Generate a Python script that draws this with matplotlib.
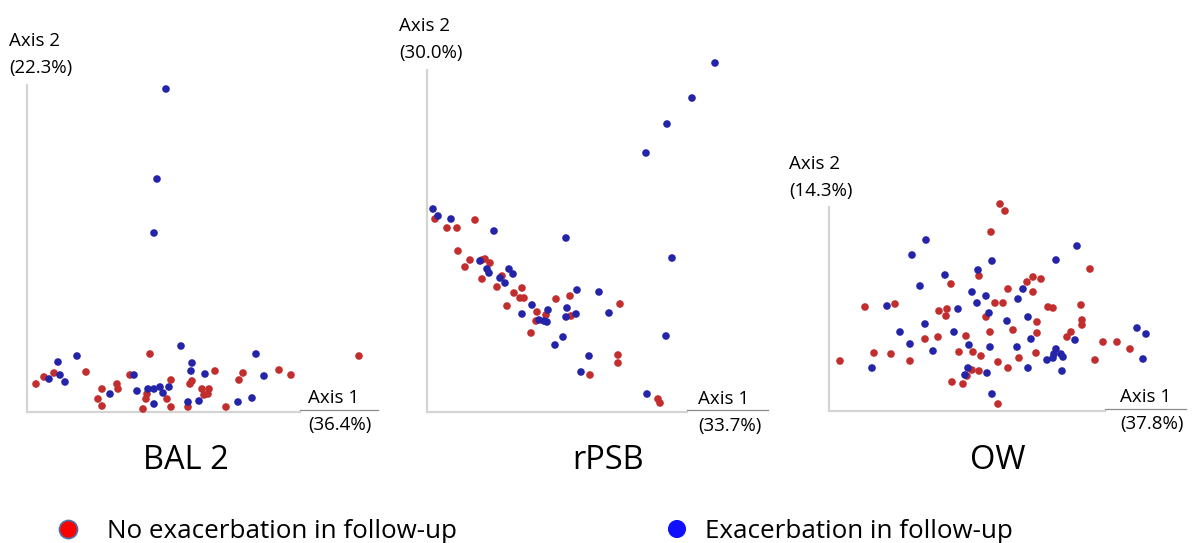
import numpy as np
import matplotlib
matplotlib.use("Agg")
import matplotlib.pyplot as plt

plt.rcParams['font.family'] = ['Open Sans', 'DejaVu Sans']

W, H = 1198, 543

# points, axis units (origin at the axes corner)
bal_blue_x = [139, 130, 127, 154, 50, 229, 31, 165, 164, 178, 22, 33, 38, 107, 237,
              110, 83, 121, 127, 133, 136, 142, 127, 161, 172, 211, 225]
bal_blue_y = [323, 233, 179, 66, 56, 58, 50, 49, 41, 38, 33, 37, 30, 37, 36,
              21, 18, 23, 23, 25, 19, 25, 8, 10, 11, 10, 14]
bal_red_x = [123, 332, 9, 17, 27, 59, 103, 188, 216, 212, 252, 264, 144, 165, 163, 90,
             91, 75, 71, 75, 119, 120, 140, 144, 116, 175, 182, 181, 177, 161, 199]
bal_red_y = [58, 56, 28, 35, 39, 40, 37, 41, 39, 32, 42, 37, 32, 31, 28, 28,
             23, 23, 13, 6, 13, 18, 13, 5, 3, 23, 23, 18, 17, 5, 5]

rpsb_blue_x = [288, 265, 240, 219, 139, 245, 6, 11, 24, 67, 53, 60, 62, 82, 86, 73, 78, 150,
               172, 105, 95, 121, 140, 139, 149, 182, 112, 117, 120, 136, 128, 239, 162, 154, 220]
rpsb_blue_y = [349, 314, 288, 259, 174, 154, 203, 196, 193, 181, 151, 143, 139, 143, 138, 134, 129, 122,
               120, 107, 98, 102, 104, 95, 98, 99, 92, 91, 90, 75, 67, 76, 56, 40, 18]
rpsb_red_x = [8, 20, 30, 48, 31, 43, 38, 55, 58, 63, 55, 70, 75, 87, 95, 93, 97, 80, 129, 143,
              110, 109, 119, 144, 193, 104, 191, 191, 163, 231, 233]
rpsb_red_y = [193, 184, 184, 192, 161, 152, 145, 152, 153, 149, 133, 125, 136, 119, 124, 114, 114, 106, 113, 116,
              100, 91, 97, 96, 108, 79, 57, 49, 37, 13, 9]

ow_blue_x = [97, 83, 163, 248, 227, 149, 116, 91, 194, 143, 157, 189, 148, 58, 129, 160, 199, 178, 96, 71,
             125, 308, 317, 202, 246, 81, 140, 161, 188, 227, 104, 225, 232, 224, 234, 218, 314, 43, 199, 139,
             233, 158, 136, 163]
ow_blue_y = [171, 156, 150, 165, 151, 141, 136, 125, 122, 119, 115, 112, 108, 105, 102, 98, 94, 90, 87, 79,
             79, 83, 77, 72, 71, 67, 66, 64, 64, 62, 60, 57, 57, 53, 54, 51, 52, 43, 43, 43,
             40, 38, 36, 17]
ow_red_x = [171, 176, 162, 261, 150, 122, 198, 204, 212, 179, 204, 36, 66, 110, 118, 117, 166, 174, 219, 224,
            252, 157, 253, 253, 208, 184, 161, 137, 208, 242, 238, 96, 109, 274, 288, 301, 45, 62, 130, 144,
            152, 207, 190, 11, 81, 169, 266, 179, 143, 150, 138, 123, 134, 169]
ow_red_y = [207, 200, 179, 142, 135, 127, 129, 134, 132, 122, 119, 104, 107, 100, 102, 95, 108, 108, 104, 103,
            106, 94, 91, 86, 89, 81, 79, 75, 78, 79, 74, 72, 74, 69, 69, 62, 58, 57, 59, 59,
            55, 58, 53, 50, 50, 49, 51, 43, 41, 40, 35, 29, 27, 7]

titles = ['BAL 2', 'rPSB', 'OW']
axis1_pct = ['(36.4%)', '(33.7%)', '(37.8%)']
axis2_pct = ['(22.3%)', '(30.0%)', '(14.3%)']
legend_labels = ['No exacerbation in follow-up', 'Exacerbation in follow-up']

RED = '#c22e2e'
BLUE = '#2424a8'

# panel geometry in pixels: origin x, origin y, top, end of gray x axis, end of underline
panels = [
    dict(ox=27, oy=412, top=85, gray=300, end=378, bx=bal_blue_x, by=bal_blue_y, rx=bal_red_x, ry=bal_red_y,
         a2=(9, 46), a1=(308, 403), tx=186),
    dict(ox=427, oy=412, top=70, gray=687, end=768, bx=rpsb_blue_x, by=rpsb_blue_y, rx=rpsb_red_x, ry=rpsb_red_y,
         a2=(399, 31), a1=(698, 404), tx=608),
    dict(ox=829, oy=411, top=207, gray=1105, end=1186, bx=ow_blue_x, by=ow_blue_y, rx=ow_red_x, ry=ow_red_y,
         a2=(789, 169), a1=(1120, 402), tx=998),
]

fig = plt.figure(figsize=(W / 100, H / 100), dpi=100)
fig.patch.set_facecolor('white')

def fx(px):
    return px / W

def fy(py):
    return 1 - py / H

for i, p in enumerate(panels):
    w = p['end'] - p['ox']
    h = p['oy'] - p['top']
    ax = fig.add_axes([fx(p['ox']), fy(p['oy']), w / W, h / H])
    ax.set_xlim(0, w)
    ax.set_ylim(0, h)
    ax.axis('off')
    # axis lines
    ax.plot([0, 0], [0, h], color='#d4d4d4', lw=1.6, clip_on=False)
    ax.plot([0, p['gray'] - p['ox']], [0, 0], color='#d4d4d4', lw=1.6, clip_on=False)
    ax.plot([p['gray'] - p['ox'], w], [2, 2], color='#8a8a8a', lw=0.9, clip_on=False)
    ax.scatter(p['rx'], p['ry'], s=30, color=RED, edgecolors='none', clip_on=False, zorder=3)
    ax.scatter(p['bx'], p['by'], s=30, color=BLUE, edgecolors='none', clip_on=False, zorder=3)

    x2, y2 = p['a2']
    fig.text(fx(x2), fy(y2), 'Axis 2', fontsize=13.5, va='baseline', ha='left')
    fig.text(fx(x2), fy(y2 + 27), axis2_pct[i], fontsize=13.5, va='baseline', ha='left')
    x1, y1 = p['a1']
    fig.text(fx(x1), fy(y1), 'Axis 1', fontsize=13.5, va='baseline', ha='left')
    fig.text(fx(x1), fy(y1 + 27), axis1_pct[i], fontsize=13.5, va='baseline', ha='left')
    fig.text(fx(p['tx']), fy(469), titles[i], fontsize=23.5, va='baseline', ha='center')

# legend
lax = fig.add_axes([0, 0, 1, 1])
lax.set_xlim(0, W)
lax.set_ylim(H, 0)
lax.axis('off')
lax.scatter([68], [529], s=170, color='#ff0000', edgecolors='#4f6fa8', linewidths=1.2)
lax.scatter([677], [529], s=170, color='#1010ff', edgecolors='none')
lax.text(107, 538, legend_labels[0], fontsize=18.7, va='baseline', ha='left')
lax.text(705, 538, legend_labels[1], fontsize=18.7, va='baseline', ha='left')

fig.savefig('out.png', dpi=100)
